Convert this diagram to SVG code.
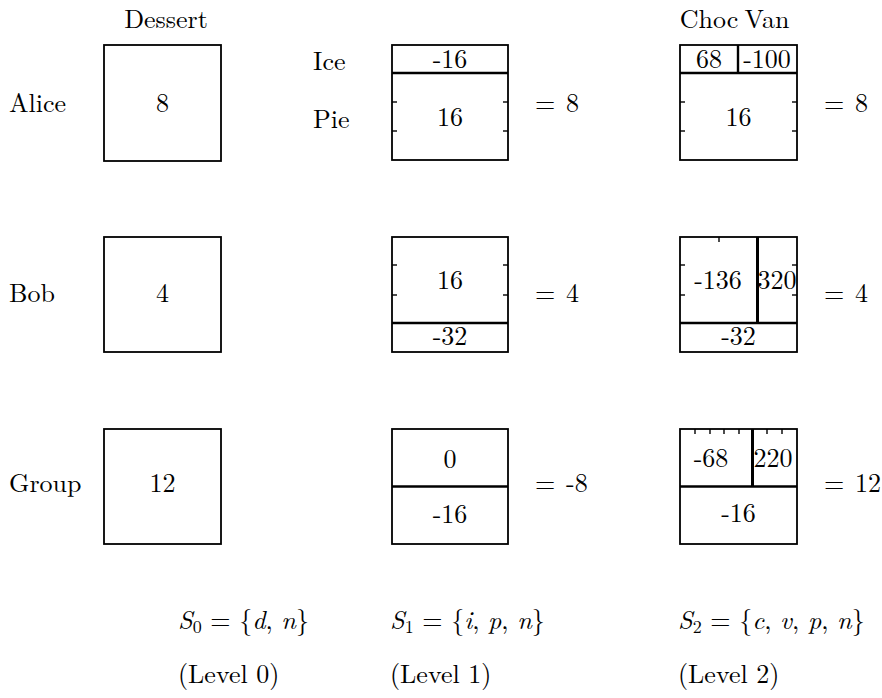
<svg xmlns="http://www.w3.org/2000/svg" width="882" height="698" viewBox="0 0 882 698" font-family="Latin Modern Roman, Liberation Serif, serif" font-size="26">
<style>
text { fill: #000; }
.c { text-anchor: middle; }
.box { fill: none; stroke: #000; stroke-width: 1.8; }
.div { stroke: #000; stroke-width: 2.4; }
.vdiv { stroke: #000; stroke-width: 3; }
.tick { stroke: #000; stroke-width: 1.4; }
.i { font-style: italic; }
.sub { font-size: 18px; }
</style>
<rect width="882" height="698" fill="#fff"/>

<g id="headers">
<text class="c" x="166" y="28">Dessert</text>
<text class="c" x="709" y="28">Choc</text>
<text class="c" x="767" y="28">Van</text>
<text x="313" y="70">Ice</text>
<text x="313" y="128">Pie</text>
</g>

<g id="row-labels">
<text x="9" y="112">Alice</text>
<text x="9" y="302">Bob</text>
<text x="9" y="492">Group</text>
</g>

<!-- Level 0 -->
<g id="alice-l0">
<rect class="box" x="104" y="45" width="117" height="116"/>
<text class="c" x="162.5" y="112">8</text>
</g>
<g id="bob-l0">
<rect class="box" x="104" y="237" width="117" height="115"/>
<text class="c" x="162.5" y="302">4</text>
</g>
<g id="group-l0">
<rect class="box" x="104" y="429" width="117" height="115"/>
<text class="c" x="162.5" y="492">12</text>
</g>

<!-- Level 1 -->
<g id="alice-l1">
<rect class="box" x="392" y="45" width="116" height="115"/>
<line class="div" x1="392" y1="73" x2="508" y2="73"/>
<line class="tick" x1="392" y1="102" x2="397" y2="102"/>
<line class="tick" x1="392" y1="131" x2="397" y2="131"/>
<line class="tick" x1="503" y1="102" x2="508" y2="102"/>
<line class="tick" x1="503" y1="131" x2="508" y2="131"/>
<text class="c" x="450" y="68">-16</text>
<text class="c" x="450" y="126">16</text>
</g>
<g id="bob-l1">
<rect class="box" x="392" y="237" width="116" height="115"/>
<line class="div" x1="392" y1="323" x2="508" y2="323"/>
<line class="tick" x1="392" y1="265" x2="397" y2="265"/>
<line class="tick" x1="392" y1="295" x2="397" y2="295"/>
<line class="tick" x1="503" y1="265" x2="508" y2="265"/>
<line class="tick" x1="503" y1="295" x2="508" y2="295"/>
<text class="c" x="450" y="289">16</text>
<text class="c" x="450" y="345">-32</text>
</g>
<g id="group-l1">
<rect class="box" x="392" y="429" width="116" height="115"/>
<line class="div" x1="392" y1="486.5" x2="508" y2="486.5"/>
<text class="c" x="450" y="468">0</text>
<text class="c" x="450" y="523">-16</text>
</g>

<!-- Level 2 -->
<g id="alice-l2">
<rect class="box" x="680" y="45" width="117" height="115"/>
<line class="div" x1="680" y1="73" x2="797" y2="73"/>
<line class="div" x1="738" y1="45" x2="738" y2="73"/>
<line class="tick" x1="680" y1="102" x2="685" y2="102"/>
<line class="tick" x1="680" y1="131" x2="685" y2="131"/>
<line class="tick" x1="792" y1="102" x2="797" y2="102"/>
<line class="tick" x1="792" y1="131" x2="797" y2="131"/>
<text class="c" x="709" y="68">68</text>
<text class="c" x="767" y="68">-100</text>
<text class="c" x="738.5" y="126">16</text>
</g>
<g id="bob-l2">
<rect class="box" x="680" y="237" width="117" height="115"/>
<line class="div" x1="680" y1="323" x2="797" y2="323"/>
<line class="vdiv" x1="757.5" y1="237" x2="757.5" y2="323"/>
<line class="tick" x1="719" y1="237" x2="719" y2="242"/>
<line class="tick" x1="680" y1="265" x2="685" y2="265"/>
<line class="tick" x1="680" y1="295" x2="685" y2="295"/>
<line class="tick" x1="792" y1="265" x2="797" y2="265"/>
<line class="tick" x1="792" y1="295" x2="797" y2="295"/>
<text class="c" x="718" y="289">-136</text>
<text class="c" x="777" y="289">320</text>
<text class="c" x="738.5" y="345">-32</text>
</g>
<g id="group-l2">
<rect class="box" x="680" y="429" width="117" height="115"/>
<line class="div" x1="680" y1="486.5" x2="797" y2="486.5"/>
<line class="vdiv" x1="752.5" y1="429" x2="752.5" y2="486.5"/>
<line class="tick" x1="695" y1="429" x2="695" y2="434"/>
<line class="tick" x1="710" y1="429" x2="710" y2="434"/>
<line class="tick" x1="724" y1="429" x2="724" y2="434"/>
<line class="tick" x1="739" y1="429" x2="739" y2="434"/>
<line class="tick" x1="767" y1="429" x2="767" y2="434"/>
<line class="tick" x1="782" y1="429" x2="782" y2="434"/>
<text class="c" x="711" y="467">-68</text>
<text class="c" x="773" y="467">220</text>
<text class="c" x="738.5" y="522">-16</text>
</g>

<g id="totals">
<text x="535" y="112">=<tspan x="566">8</tspan></text>
<text x="535" y="302">=<tspan x="566">4</tspan></text>
<text x="535" y="492">=<tspan x="566">-8</tspan></text>
<text x="824" y="112">=<tspan x="855">8</tspan></text>
<text x="824" y="302">=<tspan x="855">4</tspan></text>
<text x="824" y="492">=<tspan x="855">12</tspan></text>
</g>

<g id="levels">
<text x="178" y="629"><tspan class="i">S</tspan><tspan class="sub" dy="4">0</tspan><tspan dy="-4"> = {</tspan><tspan class="i">d</tspan>, <tspan class="i">n</tspan>}</text>
<text x="178" y="683">(Level 0)</text>
<text x="390" y="629"><tspan class="i">S</tspan><tspan class="sub" dy="4">1</tspan><tspan dy="-4"> = {</tspan><tspan class="i">i</tspan>, <tspan class="i">p</tspan>, <tspan class="i">n</tspan>}</text>
<text x="390" y="683">(Level 1)</text>
<text x="678" y="629"><tspan class="i">S</tspan><tspan class="sub" dy="4">2</tspan><tspan dy="-4"> = {</tspan><tspan class="i">c</tspan>, <tspan class="i">v</tspan>, <tspan class="i">p</tspan>, <tspan class="i">n</tspan>}</text>
<text x="678" y="683">(Level 2)</text>
</g>
</svg>
